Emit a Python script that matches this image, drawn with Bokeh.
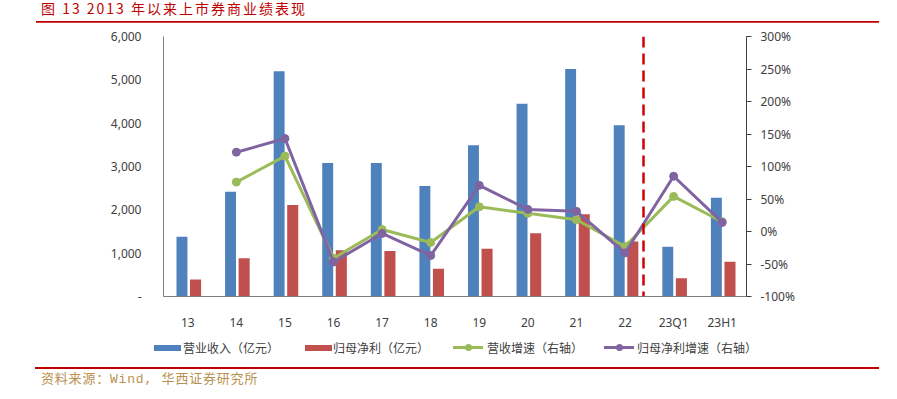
from bokeh.plotting import figure
from bokeh.models import (FactorRange, Range1d, LinearAxis, Span,
                          CustomJSTickFormatter, PrintfTickFormatter, FixedTicker,
                          ColumnDataSource, Div)
from bokeh.transform import dodge
from bokeh.layouts import column
from bokeh.embed import file_html
from bokeh.resources import INLINE

# ---- data ----
periods = ["13", "14", "15", "16", "17", "18", "19", "20", "21", "22", "23Q1", "23H1"]
revenue = [1380, 2420, 5200, 3080, 3080, 2550, 3490, 4450, 5250, 3950, 1150, 2280]       # 营业收入（亿元）
net_profit = [390, 880, 2110, 1070, 1050, 640, 1100, 1460, 1900, 1270, 420, 800]         # 归母净利（亿元）
growth_periods = periods[1:]
revenue_growth = [76, 116, -41, 3, -17, 38, 28, 18, -23, 54, 15]                          # 营收增速（%）
profit_growth = [122, 143, -47, -3, -37, 71, 34, 31, -33, 85, 14]                         # 归母净利增速（%）
left_ticks = [0, 1000, 2000, 3000, 4000, 5000, 6000]
right_ticks = [-100, -50, 0, 50, 100, 150, 200, 250, 300]

title_text = "图 13 2013 年以来上市券商业绩表现"
source_text = "资料来源：Wind, 华西证券研究所"
labels = ["营业收入（亿元）", "归母净利（亿元）", "营收增速（右轴）", "归母净利增速（右轴）"]

BLUE = "#4F81BD"
RED = "#C0504D"
GREEN = "#9BBB59"
PURPLE = "#8064A2"
TXT = "#404040"
NUM_FONT = "Noto Sans"
CJK_FONT = "Noto Sans CJK SC"

bar_src = ColumnDataSource(dict(period=periods, revenue=revenue, profit=net_profit))
line_src = ColumnDataSource(dict(period=growth_periods, rg=revenue_growth, pg=profit_growth))

p = figure(x_range=FactorRange(*periods), y_range=Range1d(0, 6000),
           width=888, height=311, output_backend="svg", toolbar_location=None,
           min_border_left=163, min_border_right=142, min_border_top=14, min_border_bottom=32,
           outline_line_color=None, background_fill_color="white", border_fill_color="white")
p.extra_y_ranges = {"pct": Range1d(-100, 300)}
p.xgrid.visible = False
p.ygrid.visible = False

# left axis
ya = p.yaxis[0]
ya.ticker = FixedTicker(ticks=left_ticks)
ya.formatter = CustomJSTickFormatter(code="return tick == 0 ? '-' : tick.toLocaleString('en-US');")
ya.major_tick_line_color = None
ya.minor_tick_line_color = None
ya.axis_line_color = "#808080"
ya.major_label_standoff = 16
ya.major_label_text_font = NUM_FONT
ya.major_label_text_font_size = "12px"
ya.major_label_text_color = TXT

# bottom axis
xa = p.xaxis[0]
xa.major_tick_line_color = None
xa.minor_tick_line_color = None
xa.axis_line_color = "#808080"
xa.major_label_standoff = 11
xa.major_label_text_font = NUM_FONT
xa.major_label_text_font_size = "12px"
xa.major_label_text_color = TXT

# right axis
ra = LinearAxis(y_range_name="pct", ticker=FixedTicker(ticks=right_ticks),
                formatter=PrintfTickFormatter(format="%d%%"))
ra.major_tick_out = 5
ra.major_tick_in = 0
ra.minor_tick_line_color = None
ra.axis_line_color = "#404040"
ra.major_tick_line_color = "#404040"
ra.major_label_standoff = 9
ra.major_label_text_font = NUM_FONT
ra.major_label_text_font_size = "12px"
ra.major_label_text_color = TXT
p.add_layout(ra, "right")

# bars
p.vbar(x=dodge("period", -0.12, range=p.x_range), top="revenue", width=0.225,
       source=bar_src, fill_color=BLUE, line_color=None)
p.vbar(x=dodge("period", 0.16, range=p.x_range), top="profit", width=0.228,
       source=bar_src, fill_color=RED, line_color=None)

# growth lines (right axis)
p.line(x="period", y="rg", source=line_src, y_range_name="pct", line_color=GREEN, line_width=3)
p.scatter(x="period", y="rg", source=line_src, y_range_name="pct", size=8,
          fill_color=GREEN, line_color=GREEN)
p.line(x="period", y="pg", source=line_src, y_range_name="pct", line_color=PURPLE, line_width=3)
p.scatter(x="period", y="pg", source=line_src, y_range_name="pct", size=8,
          fill_color=PURPLE, line_color=PURPLE)

# red dashed divider between annual and 2023 data
divider = Span(location=periods.index("22") + 0.88, dimension="height",
               line_color="#D00000", line_width=2.5, line_dash="11 6")
p.add_layout(divider)

# ---- legend strip (HTML, below the category labels) ----
def bar_key(left, color):
    return (f'<div style="position:absolute;left:{left}px;top:12px;width:27px;height:6px;'
            f'background:{color};"></div>')

def line_key(left, color):
    return (f'<div style="position:absolute;left:{left}px;top:13px;width:30px;height:3px;'
            f'background:{color};"></div>'
            f'<div style="position:absolute;left:{left + 12}px;top:11px;width:7px;height:7px;'
            f'border-radius:50%;background:{color};"></div>')

def key_text(left, text):
    return (f'<div style="position:absolute;left:{left}px;top:7px;white-space:nowrap;'
            f'font-family:\'{CJK_FONT}\';font-size:12px;line-height:16px;color:{TXT};">{text}</div>')

legend_html = ('<div style="position:relative;width:888px;height:30px;">'
               + bar_key(154, BLUE) + key_text(183, labels[0])
               + bar_key(305, RED) + key_text(333, labels[1])
               + line_key(453, GREEN) + key_text(487, labels[2])
               + line_key(604, PURPLE) + key_text(637, labels[3])
               + '</div>')
legend_div = Div(text=legend_html, width=888, height=30, margin=0)

title_div = Div(
    text=('<div style="position:relative;margin-left:36px;width:843px;height:23px;'
          'border-bottom:2px solid #C00000;">'
          '<div style="position:absolute;left:5px;top:1px;white-space:nowrap;'
          f'font-family:\'{CJK_FONT}\';font-size:14px;line-height:14px;letter-spacing:2px;'
          f'color:#C00000;">{title_text}</div></div>'),
    width=888, height=22, margin=0, styles={"overflow": "visible"})

source_div = Div(
    text=('<div style="margin-top:4px;margin-left:35px;width:844px;'
          'border-top:2.5px solid #C00000;padding-top:3px;padding-left:6px;'
          f'font-family:\'Liberation Mono\',\'{CJK_FONT}\';font-size:13px;line-height:15px;'
          f'letter-spacing:0.8px;color:#B8914F;white-space:nowrap;">{source_text}</div>'),
    width=888, height=28, margin=0)

layout = column(title_div, p, legend_div, source_div, spacing=0)
open("out.html", "w").write(file_html(layout, INLINE))
